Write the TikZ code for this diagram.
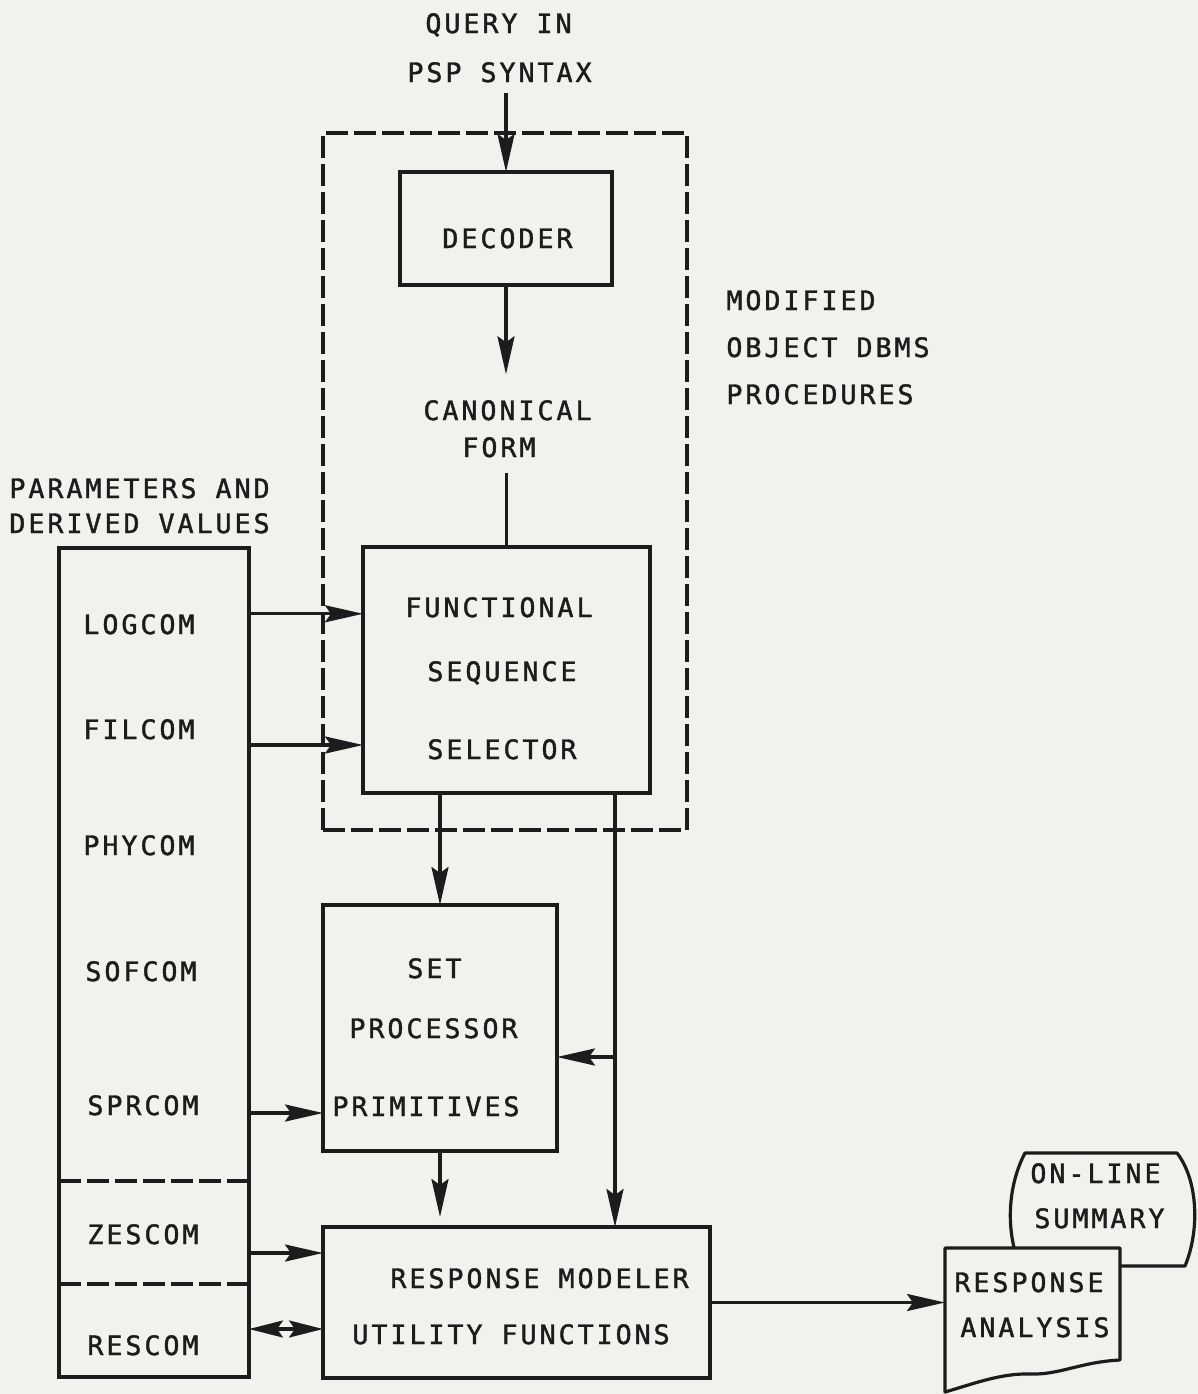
\documentclass[tikz,border=0pt]{standalone}
\usepackage{fontspec}
\newfontfamily\lf[LetterSpace=11,FakeBold=1.5]{DejaVu Sans Mono}
\usetikzlibrary{arrows.meta,calc}
\definecolor{bg}{RGB}{241,241,237}
\definecolor{ink}{RGB}{28,28,28}
\begin{document}
\begin{tikzpicture}[x=0.5pt,y=-0.5pt,
  box/.style={draw=ink, line width=1.6pt, inner sep=0pt, outer sep=0pt, rectangle},
  t/.style={font=\fontsize{13.35}{16}\lf, text=ink, inner sep=0pt, anchor=base west},
  arr/.style={draw=ink, line width=1.6pt, -{Stealth[length=19pt,width=8.5pt,inset=3pt]}},
  darr/.style={draw=ink, line width=1.6pt, {Stealth[length=17pt,width=8.5pt,inset=3pt]}-{Stealth[length=17pt,width=8.5pt,inset=3pt]}},
  ln/.style={draw=ink, line width=1.6pt},
  dsh/.style={draw=ink, line width=1.6pt, dash pattern=on 11pt off 3pt},
  shp/.style={fill=bg, draw=ink, line width=1.6pt, line join=round}]
\fill[bg] (0,0) rectangle (1198,1394);
\useasboundingbox (0,0) rectangle (1198,1394);

% query
\node[t] (q1) at (425,33) {QUERY IN};
\node[t] (q2) at (407,82) {PSP SYNTAX};

% dashed frame
\node[box, dsh, minimum width=182pt, minimum height=348.5pt] (frame) at (505,481.5) {};
\node[t] (m1) at (726,310) {MODIFIED};
\node[t] (m2) at (726,357) {OBJECT DBMS};
\node[t] (m3) at (726,404) {PROCEDURES};

% decoder
\node[box, minimum width=106pt, minimum height=56.5pt] (dec) at (506,228.5) {};
\node[t] (dect) at (442,248) {DECODER};
\node[t] (can1) at (423,420) {CANONICAL};
\node[t] (can2) at (462,457) {FORM};

% functional sequence selector
\node[box, minimum width=143.5pt, minimum height=123pt] (fss) at (506.5,670) {};
\node[t] (f1) at (405,617) {FUNCTIONAL};
\node[t] (f2) at (427,681) {SEQUENCE};
\node[t] (f3) at (427,759) {SELECTOR};

% parameters column
\node[t] (p1) at (9,498) {PARAMETERS AND};
\node[t] (p2) at (9,533) {DERIVED VALUES};
\node[box, minimum width=95pt, minimum height=414.5pt] (lcol) at (154,962.5) {};
\node[t] (logcom) at (83,634) {LOGCOM};
\node[t] (filcom) at (83,739) {FILCOM};
\node[t] (phycom) at (83,855) {PHYCOM};
\node[t] (sofcom) at (85,981) {SOFCOM};
\node[t] (sprcom) at (87,1115) {SPRCOM};
\node[t] (zescom) at (87,1244) {ZESCOM};
\node[t] (rescom) at (87,1355) {RESCOM};
\draw[dsh] (lcol.west |- 0,1181) -- (lcol.east |- 0,1181);
\draw[dsh] (lcol.west |- 0,1284) -- (lcol.east |- 0,1284);

% set processor primitives
\node[box, minimum width=117pt, minimum height=123pt] (spp) at (440,1028) {};
\node[t] (s1) at (407,978) {SET};
\node[t] (s2) at (349,1038) {PROCESSOR};
\node[t] (s3) at (332,1116) {PRIMITIVES};

% response modeler
\node[box, minimum width=193.5pt, minimum height=75.5pt] (rm) at (516.5,1302.5) {};
\node[t] (r1) at (390,1288) {RESPONSE MODELER};
\node[t] (r2) at (352,1344) {UTILITY FUNCTIONS};

% on-line summary (display) and response analysis (document)
\filldraw[shp] (1025,1153) -- (1177,1153) .. controls (1198,1180) and (1200,1230) .. (1185,1266)
  -- (1020,1266) .. controls (1005,1230) and (1008,1185) .. (1025,1153) -- cycle;
\node[t] (o1) at (1030,1183) {ON-LINE};
\node[t] (o2) at (1034,1228) {SUMMARY};
\node[inner sep=0pt, outer sep=0pt, minimum width=87.5pt, minimum height=72pt] (doc) at (1032.5,1320) {};
\filldraw[shp] (doc.south west) -- (doc.north west) -- (doc.north east) -- (1120,1360)
  .. controls (1080,1362) and (1060,1375) .. (1030,1374)
  .. controls (1000,1373) and (970,1385) .. (doc.south west) -- cycle;
\node[t] (a1) at (954,1292) {RESPONSE};
\node[t] (a2) at (960,1337) {ANALYSIS};

% connectors
\draw[arr, shorten <=5pt] (q2.south -| dec.north) -- (dec.north);
\draw[arr, shorten >=12.75pt] (dec.south) -- (dec.south |- can1.north);
\draw[ln, shorten <=7.5pt] (can2.south -| fss.north) -- (fss.north);
\draw[arr] (lcol.east |- logcom.north) -- (fss.west |- logcom.north);
\draw[arr] ($(lcol.east |- filcom.base)+(0,6)$) -- ($(fss.west |- filcom.base)+(0,6)$);
\draw[arr] ($(lcol.east |- sprcom.base)+(0,-2)$) -- ($(spp.west |- sprcom.base)+(0,-2)$);
\draw[arr] ($(lcol.east |- zescom.base)+(0,9)$) -- ($(rm.west |- zescom.base)+(0,9)$);
\draw[darr] ($(lcol.east |- rescom.base)+(0,-26)$) -- ($(rm.west |- rescom.base)+(0,-26)$);
\draw[arr] (fss.south -| spp.north) -- (spp.north);
\coordinate (bus) at (615,1057);
\draw[arr] (fss.south -| bus) -- (rm.north -| bus);
\draw[arr] (bus) -- (spp.east |- bus);
\draw[arr, shorten >=5pt] (spp.south) -- (rm.north -| spp.south);
\draw[arr] (rm.east) -- (doc.west |- rm.east);
\end{tikzpicture}
\end{document}
